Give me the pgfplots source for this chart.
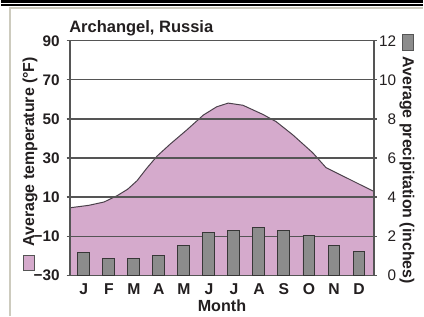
\documentclass[border=0pt]{standalone}
\usepackage{pgfplots}
\pgfplotsset{compat=1.18}
\usepackage{fontspec}
\setmainfont{Liberation Sans}
\definecolor{pinkfill}{RGB}{213,170,204}
\definecolor{curvec}{RGB}{75,65,75}
\definecolor{gridc}{RGB}{85,85,85}
\definecolor{barfill}{RGB}{140,140,140}
\definecolor{bardraw}{RGB}{55,55,55}
\definecolor{txt}{RGB}{35,31,32}
\definecolor{framec}{RGB}{205,203,190}
\begin{document}
\begin{tikzpicture}
\fill[white] (0,0) rectangle (212pt,159pt);
% frame decoration
\draw[black, line width=1.3pt] (0,158.35pt) -- (212pt,158.35pt);
\draw[black, line width=0.8pt] (0,156.6pt) -- (212pt,156.6pt);
\draw[framec, line width=0.8pt] (4.3pt,0pt) -- (4.3pt,155pt) -- (212pt,155pt);
\begin{axis}[
  at={(34.5pt,20.5pt)}, anchor=south west, scale only axis,
  width=153pt, height=118pt,
  xmin=0.444, xmax=12.6, ymin=-30, ymax=90,
  axis on top,
  axis line style={gridc, line width=0.65pt},
  ytick={-30,-10,10,30,50,70,90},
  yticklabels={−30,−10,10,30,50,70,90},
  ytick pos=left,
  ymajorgrids, major grid style={gridc, line width=0.65pt},
  xtick={1,...,12},
  xticklabels={J,F,M,A,M,J,J,A,S,O,N,D},
  x tick style={draw=none},
  y tick style={gridc, line width=0.65pt},
  tick align=outside, major tick length=1.6pt,
  yticklabel style={font=\fontsize{7.7}{9}\selectfont\bfseries, text=txt},
  xticklabel style={font=\fontsize{7.9}{9}\selectfont\bfseries, text=txt, anchor=north, text height=5.6pt, text depth=0pt, inner sep=2.4pt},
]
\addplot[fill=pinkfill, draw=none] coordinates {
(0.444,-30) (0.444,4.5) (0.48,4.6) (1.2,5.8) (1.81,7.5) (2.34,10.8) (2.75,14) (3.13,18.4)
(3.5,24.5) (3.93,31) (4.46,37.2) (5.12,44.4) (5.78,52) (6.31,56.2) (6.77,58.1) (7.36,57)
(8.16,52.3) (8.69,48.6) (9.35,41.9) (10.15,32.7) (10.68,25.1) (11.34,20.9)
(12.53,13.3) (12.6,13) (12.6,-30)} -- cycle;
\addplot[curvec, line width=0.5pt] coordinates {
(0.444,4.5) (0.48,4.6) (1.2,5.8) (1.81,7.5) (2.34,10.8) (2.75,14) (3.13,18.4)
(3.5,24.5) (3.93,31) (4.46,37.2) (5.12,44.4) (5.78,52) (6.31,56.2) (6.77,58.1) (7.36,57)
(8.16,52.3) (8.69,48.6) (9.35,41.9) (10.15,32.7) (10.68,25.1) (11.34,20.9)
(12.53,13.3) (12.6,13)};
\end{axis}
\begin{axis}[
  at={(34.5pt,20.5pt)}, anchor=south west, scale only axis,
  width=153pt, height=118pt,
  xmin=0.444, xmax=12.6, ymin=0, ymax=12,
  hide x axis,
  axis y line*=right,
  axis line style={gridc, line width=0.65pt},
  ytick={0,2,4,6,8,10,12},
  yticklabels={0,2,4,6,8,10,12},
  y tick style={gridc, line width=0.65pt},
  tick align=outside, major tick length=1.4pt,
  yticklabel style={font=\fontsize{7.7}{9}\selectfont, text=txt, anchor=west, text width=8.9pt, align=right, inner sep=0pt, xshift=0.6pt},
  ybar, bar width=6pt,
]
\addplot[fill=barfill, draw=bardraw, line width=0.5pt] coordinates {
(1,1.17) (2,0.85) (3,0.85) (4,1.0) (5,1.53) (6,2.2) (7,2.3) (8,2.44) (9,2.3) (10,2.04) (11,1.53) (12,1.22)};
\end{axis}
% title and labels
\node[anchor=base west, inner sep=0pt, text=txt, font=\fontsize{8.3}{10}\selectfont\bfseries] at (34pt,142.5pt) {Archangel, Russia};
\node[anchor=base, inner sep=0pt, text=txt, font=\fontsize{8.1}{10}\selectfont\bfseries] at (111pt,2.3pt) {Month};
{\setlength{\fboxsep}{0pt}\setlength{\fboxrule}{0.4pt}
\node[anchor=base, rotate=90, inner sep=0pt, text=txt, font=\fontsize{8}{10}\selectfont\bfseries] at (16.5pt,76.5pt) {\fcolorbox{gridc}{pinkfill}{\rule{7.5pt}{0pt}\rule{0pt}{5pt}}\hspace{4pt}Average temperature (°F)};
\node[anchor=base, rotate=-90, inner sep=0pt, text=txt, font=\fontsize{8}{10}\selectfont\bfseries] at (202pt,79pt) {\fcolorbox{gridc}{barfill}{\rule{7.5pt}{0pt}\rule{0pt}{5pt}}\hspace{3pt}Average precipitation (inches)};
}
\end{tikzpicture}
\end{document}
